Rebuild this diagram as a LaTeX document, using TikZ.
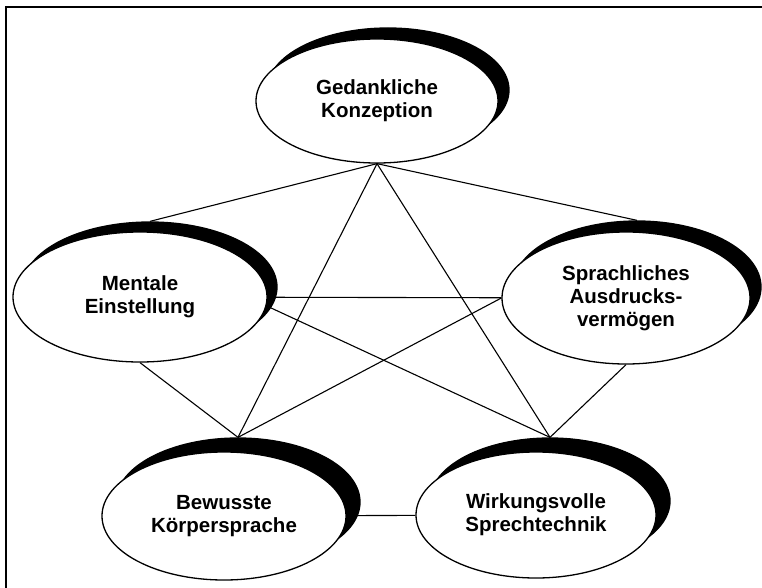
\documentclass[tikz,border=0pt]{standalone}
\usepackage{fontspec}
\setmainfont{Liberation Sans}
\usetikzlibrary{positioning,backgrounds,shapes.geometric}

\begin{document}
\begin{tikzpicture}[
    x=1pt,y=-1pt,
    oval/.style 2 args={ellipse,minimum width=#1,minimum height=#2},
    blob/.style={draw=black,line width=1.3pt,fill=white,inner sep=1pt,align=center,font=\fontsize{20.5}{23}\selectfont\bfseries},
    blobshadow/.style={draw=black,line width=1.3pt,fill=black},
    link/.style={line width=1.1pt,black}
  ]
    \useasboundingbox (0,0) rectangle (762,588);
    \draw[line width=1.8pt] (762,7) -- (6,7) -- (6,588);

    \node[blobshadow,oval={242pt}{124pt}] (gedanke-s) at (388,90) {};
    \node[blob,oval={242pt}{124pt}] (gedanke) at (377,101) {Gedankliche\\Konzeption};
    \node[blobshadow,oval={254pt}{130pt}] (mentale-s) at (150,287) {};
    \node[blob,oval={254pt}{130pt}] (mentale) at (140,297) {Mentale\\Einstellung};
    \node[blobshadow,oval={248pt}{132pt}] (sprach-s) at (637,287) {};
    \node[blob,oval={248pt}{132pt}] (sprach) at (626,298) {Sprachliches\\Ausdrucks-\\verm\"ogen};
    \node[blobshadow,oval={244pt}{128pt}] (koerper-s) at (238,502) {};
    \node[blob,oval={244pt}{128pt}] (koerper) at (224,516) {Bewusste\\K\"orpersprache};
    \node[blobshadow,oval={240pt}{126pt}] (technik-s) at (550,501) {};
    \node[blob,oval={240pt}{126pt}] (technik) at (536,515) {Wirkungsvolle\\Sprechtechnik};

    \begin{scope}[on background layer]
      \draw[link] (gedanke.south) -- (mentale-s.north);
      \draw[link] (gedanke.south) -- (sprach-s.north);
      \draw[link] (gedanke.south) -- (koerper-s.north);
      \draw[link] (gedanke.south) -- (technik-s.north);
      \draw[link] (mentale) -- (sprach);
      \draw[link] (mentale.-4) -- (technik-s.north);
      \draw[link] (mentale.south) -- (koerper-s.north);
      \draw[link] (sprach.west) -- (koerper-s.north);
      \draw[link] (sprach.south) -- (technik-s.north);
      \draw[link] (koerper) -- (technik);
    \end{scope}
\end{tikzpicture}
\end{document}
